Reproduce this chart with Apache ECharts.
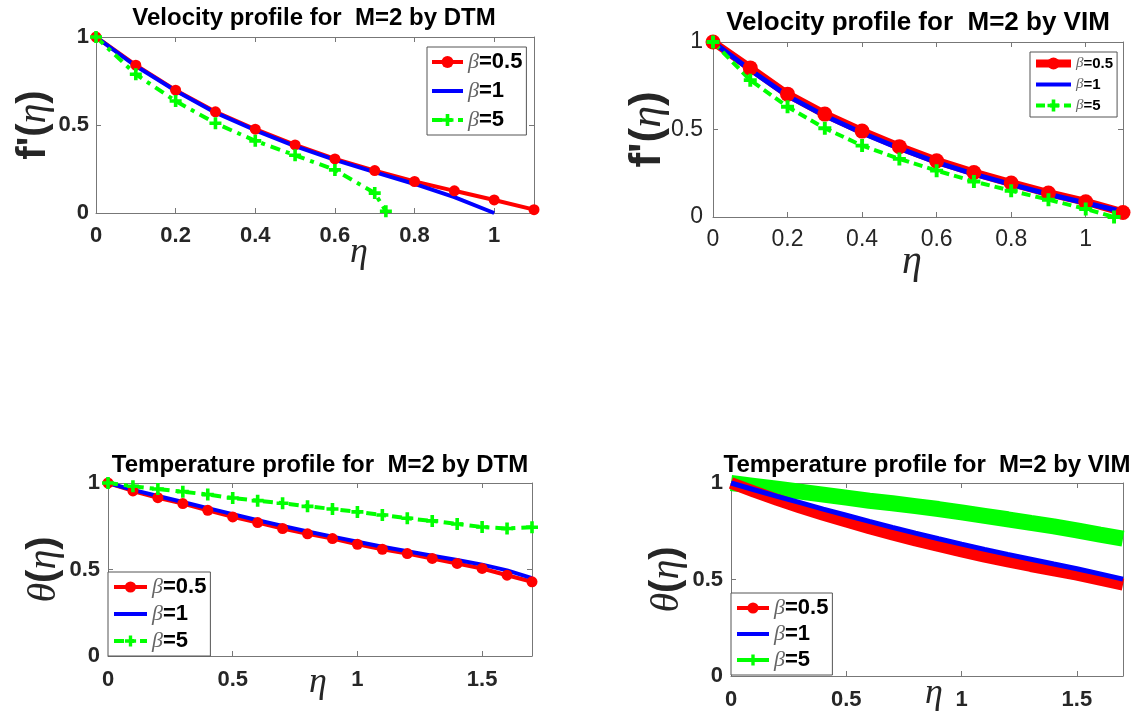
<!DOCTYPE html>
<html><head><meta charset="utf-8">
<script src="https://cdn.jsdelivr.net/npm/echarts@6/dist/echarts.min.js"></script>
<style>html,body{margin:0;padding:0;background:#fff}#c{width:1138px;height:720px}</style>
</head><body><div id="c"></div>
<script>
// ---------- data ----------
const titles = [
  'Velocity profile for  M=2 by DTM',
  'Velocity profile for  M=2 by VIM',
  'Temperature profile for  M=2 by DTM',
  'Temperature profile for  M=2 by VIM'
];
const betaLabels = ['0.5', '1', '5'];

// Velocity, DTM
const etaVel = [0, 0.1, 0.2, 0.3, 0.4, 0.5, 0.6, 0.7, 0.8, 0.9, 1.0, 1.1];
const dtmVelB05 = [1, 0.84, 0.698, 0.575, 0.476, 0.387, 0.307, 0.241, 0.179, 0.126, 0.074, 0.019];
const etaDtmVelB1 = [0, 0.1, 0.2, 0.3, 0.4, 0.5, 0.6, 0.7, 0.8, 0.9, 1.0];
const dtmVelB1 = [1, 0.835, 0.695, 0.57, 0.47, 0.38, 0.302, 0.232, 0.165, 0.09, 0.0];
const etaDtmVelB5 = [0, 0.1, 0.2, 0.3, 0.4, 0.5, 0.6, 0.7, 0.728];
const dtmVelB5 = [1, 0.788, 0.636, 0.51, 0.41, 0.328, 0.245, 0.113, 0.01];

// Velocity, VIM
const vimVelB05 = [1, 0.852, 0.702, 0.588, 0.491, 0.402, 0.321, 0.254, 0.194, 0.137, 0.087, 0.026];
const vimVelB1 = [1, 0.84, 0.692, 0.578, 0.48, 0.392, 0.312, 0.245, 0.186, 0.13, 0.08, 0.03];
const etaVimVelB5 = [0, 0.1, 0.2, 0.3, 0.4, 0.5, 0.6, 0.7, 0.8, 0.9, 1.0, 1.076];
const vimVelB5 = [1, 0.782, 0.63, 0.507, 0.408, 0.332, 0.265, 0.203, 0.15, 0.099, 0.046, 0.0];

// Temperature, DTM
const etaTemp = [0, 0.1, 0.2, 0.3, 0.4, 0.5, 0.6, 0.7, 0.8, 0.9, 1.0, 1.1, 1.2, 1.3, 1.4, 1.5, 1.6, 1.7];
const dtmTempB05 = [1, 0.954, 0.915, 0.881, 0.842, 0.804, 0.771, 0.737, 0.706, 0.679, 0.646, 0.617, 0.592, 0.564, 0.535, 0.506, 0.467, 0.429];
const dtmTempB1 = [1, 0.96, 0.925, 0.89, 0.855, 0.82, 0.785, 0.752, 0.72, 0.69, 0.66, 0.632, 0.605, 0.58, 0.555, 0.528, 0.495, 0.45];
const dtmTempB5 = [1, 0.981, 0.965, 0.95, 0.933, 0.913, 0.898, 0.883, 0.865, 0.85, 0.833, 0.815, 0.796, 0.781, 0.763, 0.746, 0.737, 0.744];

// Temperature, VIM
const vimTempB05 = [1, 0.955, 0.913, 0.873, 0.836, 0.80, 0.766, 0.734, 0.703, 0.674, 0.646, 0.619, 0.594, 0.57, 0.547, 0.525, 0.499, 0.474];
const vimTempB1 = [1, 0.965, 0.931, 0.898, 0.865, 0.833, 0.801, 0.77, 0.74, 0.711, 0.683, 0.656, 0.63, 0.605, 0.58, 0.556, 0.529, 0.502];
const vimTempB5 = [1, 0.985, 0.97, 0.955, 0.94, 0.924, 0.908, 0.895, 0.88, 0.865, 0.848, 0.83, 0.812, 0.793, 0.775, 0.755, 0.733, 0.712];

// ---------- helpers ----------
const zip = (xs, ys) => xs.map((x, i) => [x, ys[i]]);
const RED = '#ff0000', BLUE = '#0000ff', GREEN = '#00ff00';
const PLUS = 'path://M3.5,0H6.5V3.5H10V6.5H6.5V10H3.5V6.5H0V3.5H3.5Z';
const SANS = 'Liberation Sans';
const SERIF = 'Liberation Serif';
const AXC = '#777';
const LBL = '#262626';

const grids = [
  {left: 96, top: 37, width: 438, height: 176},
  {left: 713, top: 42, width: 410, height: 175},
  {left: 108, top: 483, width: 424, height: 173},
  {left: 731, top: 483, width: 392, height: 193}
].map(g => Object.assign({containLabel: false, outerBoundsMode: 'none'}, g));

const xCfg = [
  {max: 1.1, interval: 0.2, bold: true, fs: 22, margin: 12, nameSize: 36, nameGap: 22, namePad: [0, 0, 0, 88]},
  {max: 1.1, interval: 0.2, bold: false, fs: 23, margin: 11, nameSize: 40, nameGap: 25, namePad: [0, 12, 0, 0]},
  {max: 1.7, interval: 0.5, bold: true, fs: 22, margin: 13, nameSize: 36, nameGap: 9, namePad: [0, 4, 0, 0]},
  {max: 1.7, interval: 0.5, bold: true, fs: 22, margin: 13, nameSize: 36, nameGap: 0, namePad: [0, 0, 0, 14]}
];
const yCfg = [
  {name: "{a|f'}{p|(}{e|η}{p|)}", fs: 22, bold: true, margin: 7, nameSize: 40, nameGap: 42},
  {name: "{a|f'}{p|(}{e|η}{p|)}", fs: 23, bold: false, margin: 10, nameSize: 44, nameGap: 43},
  {name: "{e|θ}{p|(}{e|η}{p|)}", fs: 22, bold: true, margin: 8, nameSize: 40, nameGap: 44},
  {name: "{e|θ}{p|(}{e|η}{p|)}", fs: 22, bold: true, margin: 8, nameSize: 40, nameGap: 44}
];

const xAxes = [], yAxes = [];
grids.forEach((g, i) => {
  const xc = xCfg[i], yc = yCfg[i];
  const lab = {fontSize: xc.fs, fontWeight: xc.bold ? 'bold' : 'normal', color: LBL, fontFamily: SANS, margin: xc.margin, showMaxLabel: false};
  xAxes.push({
    type: 'value', gridIndex: i, min: 0, max: xc.max, interval: xc.interval, position: 'bottom',
    axisLine: {show: true, onZero: false, lineStyle: {color: AXC, width: 1}},
    axisTick: {show: true, inside: true, length: 5, lineStyle: {color: AXC}},
    axisLabel: Object.assign({formatter: v => String(+v.toFixed(2))}, lab),
    splitLine: {show: false},
    name: '{e|η}', nameLocation: 'middle', nameGap: xc.nameGap, nameMoveOverlap: false,
    nameTextStyle: {padding: xc.namePad, rich: {e: {fontFamily: SERIF, fontStyle: 'italic', fontSize: xc.nameSize, color: LBL}}}
  });
  xAxes.push({
    type: 'value', gridIndex: i, min: 0, max: xc.max, interval: xc.interval, position: 'top',
    axisLine: {show: true, onZero: false, lineStyle: {color: AXC, width: 1}},
    axisTick: {show: true, inside: true, length: 5, lineStyle: {color: AXC}},
    axisLabel: {show: false}, splitLine: {show: false}
  });
  const ns = yc.nameSize;
  yAxes.push({
    type: 'value', gridIndex: i, min: 0, max: 1, interval: 0.5, position: 'left',
    axisLine: {show: true, onZero: false, lineStyle: {color: AXC, width: 1}},
    axisTick: {show: true, inside: true, length: 5, lineStyle: {color: AXC}},
    axisLabel: {fontSize: yc.fs, fontWeight: yc.bold ? 'bold' : 'normal', color: LBL, fontFamily: SANS, margin: yc.margin},
    splitLine: {show: false},
    name: yc.name, nameLocation: 'middle', nameRotate: 90, nameGap: yc.nameGap, nameMoveOverlap: false,
    nameTextStyle: {rich: {
      a: {fontFamily: SANS, fontWeight: 'bold', fontSize: ns, color: LBL},
      p: {fontFamily: SANS, fontWeight: 'bold', fontSize: ns, color: LBL},
      e: {fontFamily: SERIF, fontStyle: 'italic', fontSize: ns, color: LBL}
    }}
  });
  yAxes.push({
    type: 'value', gridIndex: i, min: 0, max: 1, interval: 0.5, position: 'right',
    axisLine: {show: true, onZero: false, lineStyle: {color: AXC, width: 1}},
    axisTick: {show: true, inside: true, length: 5, lineStyle: {color: AXC}},
    axisLabel: {show: false}, splitLine: {show: false}
  });
});

function line(name, gi, data, color, opt) {
  return Object.assign({
    type: 'line', name: name, xAxisIndex: 2 * gi, yAxisIndex: 2 * gi, data: data,
    color: color, showSymbol: true, symbol: 'none', symbolSize: 10,
    lineStyle: {color: color, width: 4}, itemStyle: {color: color},
    animation: false, silent: true, z: 2
  }, opt || {});
}

const series = [
  // Panel 0
  line('β=0.5|0', 0, zip(etaVel, dtmVelB05), RED, {symbol: 'circle', symbolSize: 11}),
  line('β=1|0', 0, zip(etaDtmVelB1, dtmVelB1), BLUE),
  line('β=5|0', 0, zip(etaDtmVelB5, dtmVelB5), GREEN, {symbol: PLUS, symbolSize: 12, lineStyle: {color: GREEN, width: 4, type: [10, 6, 4, 6]}}),
  // Panel 1
  line('β=0.5|1', 1, zip(etaVel, vimVelB05), RED, {symbol: 'circle', symbolSize: 15, lineStyle: {color: RED, width: 8}}),
  line('β=1|1', 1, zip(etaVel, vimVelB1), BLUE, {lineStyle: {color: BLUE, width: 5}}),
  line('β=5|1', 1, zip(etaVimVelB5, vimVelB5), GREEN, {symbol: PLUS, symbolSize: 13, lineStyle: {color: GREEN, width: 4, type: [9, 5]}}),
  // Panel 2
  line('β=0.5|2', 2, zip(etaTemp, dtmTempB05), RED, {symbol: 'circle', symbolSize: 11}),
  line('β=1|2', 2, zip(etaTemp, dtmTempB1), BLUE),
  line('β=5|2', 2, zip(etaTemp, dtmTempB5), GREEN, {symbol: PLUS, symbolSize: 12, lineStyle: {color: GREEN, width: 4, type: [10, 6, 4, 6]}}),
  // Panel 3
  line('β=5|3', 3, zip(etaTemp, vimTempB5), GREEN, {symbol: PLUS, showSymbol: false, lineStyle: {color: GREEN, width: 16}}),
  line('β=0.5|3', 3, zip(etaTemp, vimTempB05), RED, {symbol: 'circle', showSymbol: false, lineStyle: {color: RED, width: 12}}),
  line('β=1|3', 3, zip(etaTemp, vimTempB1), BLUE, {lineStyle: {color: BLUE, width: 5}})
];

const legendPos = [
  {left: 427, top: 47, iw: 31, ih: 15, fs: 22, gap: 7, pad: [4, 4, 4, 3], lw: [4, 4, 4]},
  {left: 1030, top: 52, iw: 35, ih: 15, fs: 15, gap: 6, pad: [4, 4, 4, 2], lw: [8, 4, 4]},
  {left: 108, top: 572, iw: 33, ih: 14, fs: 22, gap: 5, pad: [4, 4, 4, 4], lw: [4, 4, 4]},
  {left: 731, top: 593, iw: 32, ih: 14, fs: 22, gap: 4, pad: [4, 4, 4, 4], lw: [4, 4, 4]}
];
const legends = legendPos.map((L, i) => ({
  orient: 'vertical', left: L.left, top: L.top, itemWidth: L.iw, itemHeight: L.ih, itemGap: L.gap,
  padding: L.pad, borderColor: '#555', borderWidth: 1, backgroundColor: '#fff', selectedMode: false,
  data: betaLabels.map((b, k) => {
    const d = {name: 'β=' + b + '|' + i, lineStyle: {width: L.lw[k]}};
    if (b === '1') d.itemStyle = {opacity: 0};
    return d;
  }),
  formatter: n => '{g|β}{v|=' + n.split('|')[0].slice(2) + '}',
  textStyle: {rich: {
    g: {fontFamily: SERIF, fontStyle: 'italic', fontSize: L.fs, color: '#666'},
    v: {fontFamily: SANS, fontWeight: 'bold', fontSize: L.fs, color: '#000'}
  }}
}));

const titlePos = [
  {left: 314, top: 6, fs: 24},
  {left: 918, top: 10, fs: 26},
  {left: 320, top: 453, fs: 24},
  {left: 927, top: 453, fs: 24}
];
const titleOpts = titles.map((t, i) => ({
  text: t, left: titlePos[i].left, top: titlePos[i].top, textAlign: 'center', padding: 0,
  textStyle: {fontFamily: SANS, fontWeight: 'bold', fontSize: titlePos[i].fs, color: '#000'}
}));

const chart = echarts.init(document.getElementById('c'), null, {renderer: 'canvas'});
chart.setOption({
  animation: false,
  backgroundColor: '#fff',
  textStyle: {fontFamily: SANS},
  title: titleOpts,
  grid: grids,
  xAxis: xAxes,
  yAxis: yAxes,
  legend: legends,
  series: series
});
</script></body></html>
